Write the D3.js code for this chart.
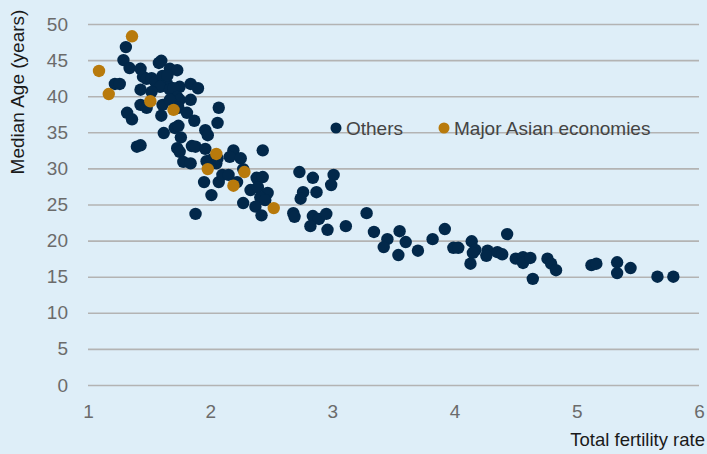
<!DOCTYPE html>
<html>
<head>
<meta charset="utf-8">
<script src="https://cdn.jsdelivr.net/npm/d3@7"></script>
<style>
  html, body { margin: 0; padding: 0; background: #deeef8; }
  svg { display: block; font-family: "Liberation Sans", Arial, sans-serif; }
</style>
</head>
<body>
<svg id="chart" width="707" height="454"></svg>
<script>
// total fertility rate (x) and median age (y)
var othersTfr = [1.31, 1.29, 1.34, 1.22, 1.26, 1.43, 1.45, 1.48, 1.52, 1.58, 1.60, 1.67, 1.73, 1.55, 1.61,
    1.65, 1.65, 1.59, 1.75, 1.84, 1.90, 1.43, 1.52, 1.67, 1.70, 1.73, 1.75, 1.84, 1.43, 1.48,
    1.61, 1.67, 1.74, 1.81, 1.87, 1.60, 1.32, 1.36, 2.07, 2.06, 1.62, 1.71, 1.74, 1.76, 1.96,
    1.98, 1.40, 1.43, 1.73, 1.75, 1.85, 1.88, 1.96, 1.78, 1.84, 1.97, 2.01, 2.05, 2.06, 2.19,
    2.16, 2.25, 2.27, 2.43, 1.95, 2.07, 2.10, 2.15, 2.22, 2.33, 2.38, 2.43, 2.39, 2.47, 2.41,
    2.45, 2.27, 2.37, 2.42, 2.01, 1.88,
    2.73, 2.84, 2.87, 2.76, 2.74, 3.01, 2.99, 2.68, 2.69, 2.84, 2.89, 2.95, 2.82, 2.96, 3.11,
    3.28, 3.34, 3.45, 3.42, 3.55, 3.60, 3.54, 3.70, 3.82, 3.92, 3.99, 4.03, 4.14, 4.17, 4.15,
    4.13, 4.27, 4.26, 4.35, 4.39, 4.43, 4.50, 4.56, 4.56, 4.62, 4.64, 4.76, 4.79, 4.83, 5.12,
    5.16, 5.33, 5.33, 5.44, 5.66, 5.79];
var othersAge = [46.8, 45.0, 43.9, 41.7, 41.7, 43.8, 42.7, 42.4, 42.5, 44.6, 44.9, 43.8, 43.6, 42.0, 42.8,
    41.6, 42.9, 41.3, 41.3, 41.7, 41.1, 40.9, 40.6, 40.9, 41.1, 39.9, 39.5, 39.5, 38.8, 38.4,
    38.8, 39.5, 38.4, 37.7, 36.6, 37.3, 37.7, 36.8, 38.4, 36.3, 34.9, 35.6, 35.9, 34.3, 35.3,
    34.6, 33.0, 33.2, 32.8, 32.3, 33.1, 33.0, 32.7, 30.9, 30.7, 31.0, 31.2, 30.7, 31.4, 32.5,
    31.6, 31.4, 29.9, 32.5, 28.1, 28.1, 29.1, 29.1, 28.1, 27.0, 28.7, 28.8, 27.4, 26.6, 26.0,
    25.6, 25.2, 24.7, 23.5, 26.3, 23.7,
    29.5, 28.7, 26.7, 26.7, 25.8, 29.1, 27.7, 23.8, 23.3, 23.4, 23.0, 23.7, 22.0, 21.5, 22.0,
    23.8, 21.2, 20.2, 19.1, 21.3, 19.8, 18.0, 18.6, 20.2, 21.6, 19.0, 19.0, 19.9, 18.7, 18.3,
    16.8, 18.6, 17.9, 18.4, 18.1, 20.9, 17.5, 17.7, 16.9, 17.6, 14.7, 17.5, 16.8, 15.9, 16.6,
    16.8, 17.0, 15.5, 16.2, 15.0, 15.0];

var asiaTfr = [1.09, 1.17, 1.36, 1.51, 1.70, 1.98, 2.05, 2.19, 2.28, 2.52];
var asiaAge = [43.5, 40.3, 48.3, 39.3, 38.1, 29.9, 32.0, 27.6, 29.5, 24.5];

var xTicks = [1, 2, 3, 4, 5, 6];
var yTicks = [0, 5, 10, 15, 20, 25, 30, 35, 40, 45, 50];
var seriesNames = ['Others', 'Major Asian economies'];
var seriesColors = ['#02284a', '#b87a0c'];

var svg = d3.select('#chart');
var margin = {left: 88, right: 8, top: 24, bottom: 69};
var width = 707, height = 454;

var x = d3.scaleLinear().domain([1, 6]).range([margin.left, width - margin.right]);
var y = d3.scaleLinear().domain([0, 50]).range([height - margin.bottom, margin.top]);

// gridlines + y labels
var yAxis = d3.axisLeft(y).tickValues(yTicks).tickSize(-(x(6) - x(1))).tickPadding(20);
var gy = svg.append('g').attr('transform', 'translate(' + x(1) + ',0)').call(yAxis);
gy.select('.domain').remove();
gy.selectAll('.tick line').attr('stroke', '#b3b3b3').attr('stroke-width', 1.6);
gy.selectAll('.tick text').attr('fill', '#6b6b6b').style('font-size', '19px');

var xAxis = d3.axisBottom(x).tickValues(xTicks).tickFormat(d3.format('d')).tickSize(0).tickPadding(20);
var gx = svg.append('g').attr('transform', 'translate(0,' + y(0) + ')').call(xAxis);
gx.select('.domain').remove();
gx.selectAll('.tick text').attr('fill', '#6b6b6b').style('font-size', '19px');

// points
var pts = svg.append('g');
pts.selectAll('circle.others')
    .data(othersTfr.map(function (v, i) { return [v, othersAge[i]]; }))
    .enter().append('circle')
    .attr('class', 'others')
    .attr('cx', function (d) { return x(d[0]); })
    .attr('cy', function (d) { return y(d[1]); })
    .attr('r', 6.2)
    .attr('fill', seriesColors[0]);
pts.selectAll('circle.asia')
    .data(asiaTfr.map(function (v, i) { return [v, asiaAge[i]]; }))
    .enter().append('circle')
    .attr('class', 'asia')
    .attr('cx', function (d) { return x(d[0]); })
    .attr('cy', function (d) { return y(d[1]); })
    .attr('r', 6.2)
    .attr('fill', seriesColors[1]);

// legend
var legendX = [336, 444];
seriesNames.forEach(function (name, i) {
    svg.append('circle').attr('cx', legendX[i]).attr('cy', 128).attr('r', 5.5).attr('fill', seriesColors[i]);
    svg.append('text').attr('x', legendX[i] + 10).attr('y', 135)
        .attr('fill', '#444').style('font-size', '19px').text(name);
});

// axis titles
svg.append('text')
    .attr('transform', 'translate(24,92) rotate(-90)')
    .attr('text-anchor', 'middle')
    .attr('fill', '#1a1a1a')
    .style('font-size', '19px')
    .text('Median Age (years)');
svg.append('text')
    .attr('x', 705).attr('y', 446)
    .attr('text-anchor', 'end')
    .attr('fill', '#1a1a1a')
    .style('font-size', '18.5px')
    .text('Total fertility rate');
</script>
</body>
</html>
